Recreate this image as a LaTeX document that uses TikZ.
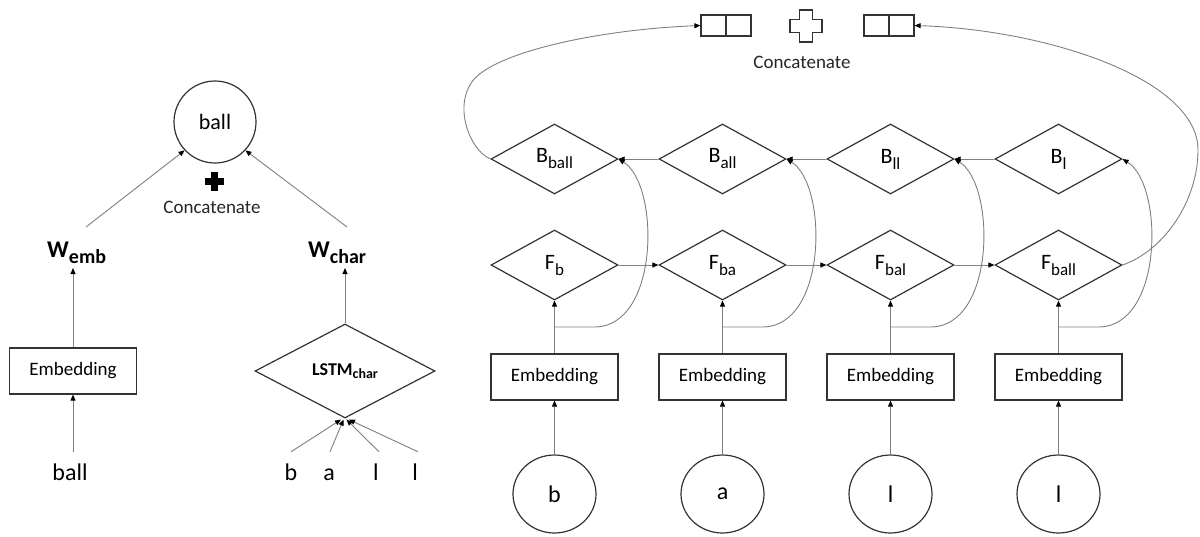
\documentclass[tikz,border=0pt]{standalone}
\usepackage{fontspec}
\setmainfont{Carlito}
\usetikzlibrary{shapes.geometric,arrows.meta,calc}

% label with a lowered index, e.g. F_{ba}
\newcommand{\sublab}[2]{{\fontsize{22}{22}\selectfont #1}\raisebox{-6pt}{\fontsize{17}{17}\selectfont #2}}

\begin{document}
\begin{tikzpicture}[x=1pt,y=-1pt,
  shapeline/.style={draw=black!80, line width=1.2pt},
  gline/.style={draw=black!50, line width=0.9pt},
  conn/.style={gline, -{Triangle[length=6pt,width=5pt,color=black]}},
  embbox/.style={shapeline, rectangle, minimum width=127pt, minimum height=46pt,
    inner sep=0pt, font=\fontsize{19}{19}\selectfont},
  cell/.style={shapeline, diamond, aspect=1.8, minimum width=127pt,
    minimum height=70pt, inner sep=0pt},
  inp/.style={shapeline, ellipse, minimum width=83pt, minimum height=78pt,
    inner sep=0pt, font=\fontsize{24}{24}\selectfont},
  letter/.style={inner sep=0pt, anchor=base, text height=17pt, text depth=0pt,
    font=\fontsize{24}{24}\selectfont},
  topbox/.style={shapeline, rectangle, minimum width=50pt, minimum height=21pt,
    inner sep=0pt},
  caption/.style={inner sep=0pt, font=\fontsize{19}{19}\selectfont, text=black!85}
]
\fill[white] (0,0) rectangle (1200,536);
\useasboundingbox (0,0) rectangle (1200,536);

% ---------------- word + character model ----------------
\node[shapeline, circle, minimum size=82pt, inner sep=0pt,
  font=\fontsize{22}{22}\selectfont] (ballc) at (215,122) {ball};
\fill[black] (211,171.5) rectangle (218,190.5);
\fill[black] (205,177.5) rectangle (224,184.5);
\node[caption] (catl) at (212,207) {Concatenate};

\node[inner sep=0pt, anchor=base west] (wemb) at (47,257)
  {{\fontsize{24}{24}\selectfont\bfseries W}\raisebox{-6.5pt}{\fontsize{20}{20}\selectfont\bfseries emb}};
\node[inner sep=0pt, anchor=base west] (wchar) at (308,257)
  {{\fontsize{24}{24}\selectfont\bfseries W}\raisebox{-6.5pt}{\fontsize{20}{20}\selectfont\bfseries char}};

\node[embbox] (emb0) at (73,371) {Embedding};
\node[shapeline, diamond, aspect=1.9, minimum width=180pt, minimum height=94pt,
  inner sep=0pt] (lstm) at (345,371)
  {{\fontsize{18}{18}\selectfont\bfseries LSTM}\raisebox{-3pt}{\fontsize{14}{14}\selectfont\bfseries char}};

\node[letter] (wball) at (70,480) {ball};
\node[letter] (lb) at (291,480) {b};
\node[letter] (la) at (329,480) {a};
\node[letter] (ll) at (376,480) {l};
\node[letter] (lm) at (415,480) {l};

\coordinate (wembin) at (73,268);
\coordinate (wcharin) at (345,268);
\coordinate (wembout) at (86,227);
\coordinate (wcharout) at (347,227);

\draw[conn] ([shift={(3pt,11pt)}]wball.north) -- (emb0.south);
\draw[conn] (emb0.north) -- (wembin);
\draw[conn] (lstm.north) -- (wcharin);
\draw[conn] (wembout) -- (ballc.223);
\draw[conn] (wcharout) -- (ballc.317);
\draw[conn] ([yshift=11pt]lb.north) -- ([xshift=-4pt,yshift=-1pt]lstm.south);
\draw[conn] ([shift={(1pt,11pt)}]la.north) -- ([xshift=-1.5pt,yshift=-1pt]lstm.south);
\draw[conn] ([shift={(3pt,11pt)}]ll.north) -- ([xshift=1.5pt,yshift=-1pt]lstm.south);
\draw[conn] ([shift={(3pt,11pt)}]lm.north) -- ([xshift=4pt,yshift=-1pt]lstm.south);

% ---------------- bidirectional character model ----------------
\foreach \i/\x/\ch/\fs/\bs in {1/554.5/b/b/ball, 2/722.5/a/ba/all, 3/890.5/l/bal/ll, 4/1058.5/l/ball/l} {
  \node[inp] (c\i) at (\x,494) {\ch};
  \node[embbox] (e\i) at (\x,377) {Embedding};
  \node[cell] (f\i) at (\x,265) {\sublab{F}{\fs}};
  \node[cell] (b\i) at (\x,159) {\sublab{B}{\bs}};
  \coordinate (br\i) at (\x,327);
  \draw[conn] (c\i) -- (e\i);
  \draw[conn] (e\i) -- (f\i);
  \draw[conn] (br\i) -- ++(40,0) .. controls +(65,0) and +(41.5,26) .. (b\i.east);
}
\foreach \i/\j in {1/2,2/3,3/4} {
  \draw[conn] (f\i.east) -- (f\j.west);
  \draw[conn] (b\j.west) -- (b\i.east);
}

% concatenated final states
\node[topbox] (tb1) at (726,25.5) {};
\node[topbox] (tb2) at (889,25.5) {};
\draw[shapeline] (tb1.north) -- (tb1.south);
\draw[shapeline] (tb2.north) -- (tb2.south);
\draw[shapeline, line join=miter] (799.5,10) -- ++(13,0) -- ++(0,9.5) -- ++(9.5,0) -- ++(0,13)
  -- ++(-9.5,0) -- ++(0,9.5) -- ++(-13,0) -- ++(0,-9.5) -- ++(-9.5,0) -- ++(0,-13)
  -- ++(9.5,0) -- cycle;
\node[caption] (catr) at (802,62) {Concatenate};

\draw[conn] (b1.west) .. controls (470,150) and (455,110) .. (470,85)
  .. controls (485,55) and (590,30) .. (tb1.west);
\draw[conn] (f4.east) .. controls (1165,250) and (1198,200) .. (1198,150)
  .. controls (1198,80) and (1050,30) .. (tb2.east);
\end{tikzpicture}
\end{document}
